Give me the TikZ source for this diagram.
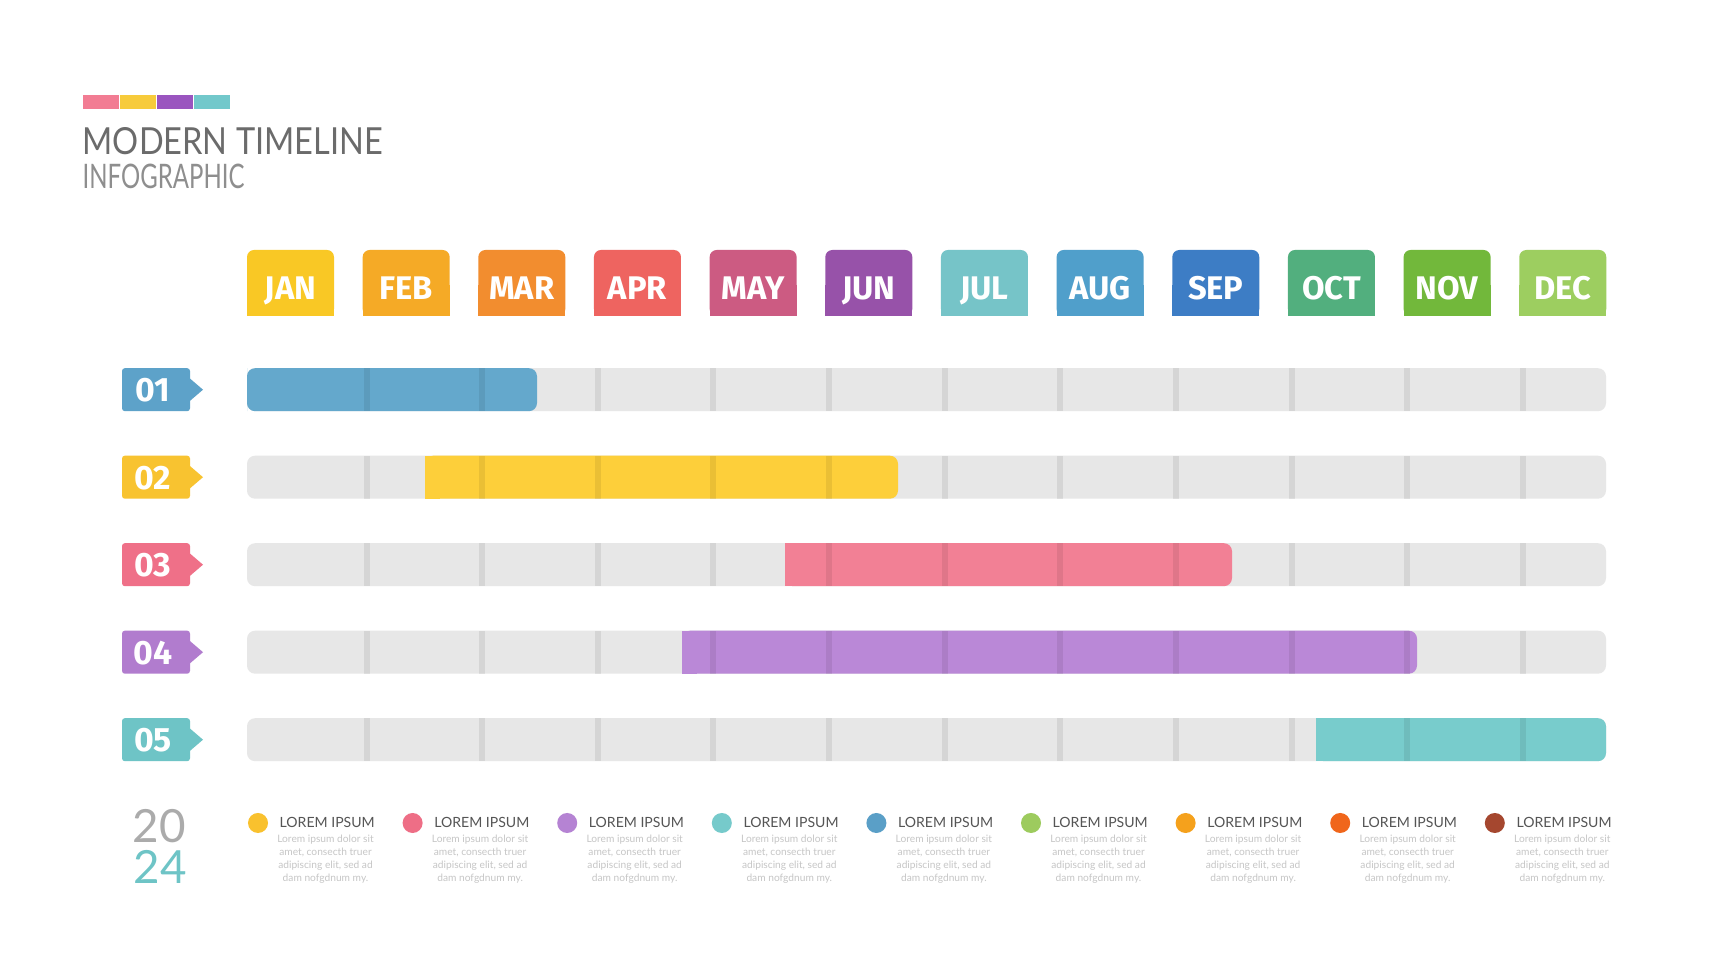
\documentclass[tikz,border=0pt]{standalone}
\usepackage{fontspec}
\setmainfont{Lato}
\newfontfamily\tabfont{Fira Sans}
\usepackage{graphicx}
\usepackage{xcolor}
\usepackage{tikz}
\usetikzlibrary{positioning}

\definecolor{ink}{HTML}{6B6B6B}
\definecolor{inklight}{HTML}{8E8E8E}
\definecolor{track}{HTML}{E7E7E7}
\definecolor{lorem}{HTML}{C6C6C6}
\definecolor{headink}{HTML}{555555}
\definecolor{yeargray}{HTML}{ABABAB}
% title strip
\definecolor{stripa}{HTML}{F27C93}
\definecolor{stripb}{HTML}{F7CB3B}
\definecolor{stripc}{HTML}{9A55BF}
\definecolor{stripd}{HTML}{72C8CB}
% months
\definecolor{janc}{HTML}{F9C825}
\definecolor{febc}{HTML}{F5AA26}
\definecolor{marc}{HTML}{F28D2F}
\definecolor{aprc}{HTML}{EE6460}
\definecolor{mayc}{HTML}{CC5B82}
\definecolor{junc}{HTML}{9752A9}
\definecolor{julc}{HTML}{76C4C8}
\definecolor{augc}{HTML}{509FCB}
\definecolor{sepc}{HTML}{3D7DC5}
\definecolor{octc}{HTML}{52AF7E}
\definecolor{novc}{HTML}{72B83B}
\definecolor{decc}{HTML}{9DCE60}
% row tags and spans
\definecolor{tagA}{HTML}{5DA2C9}
\definecolor{tagB}{HTML}{F8C330}
\definecolor{tagC}{HTML}{EF7088}
\definecolor{tagD}{HTML}{B17CCE}
\definecolor{tagE}{HTML}{6EC4C6}
\definecolor{spanA}{HTML}{64A8CC}
\definecolor{spanB}{HTML}{FDCF3A}
\definecolor{spanC}{HTML}{F28095}
\definecolor{spanD}{HTML}{BA88D7}
\definecolor{spanE}{HTML}{78CCCC}
% legend dots
\definecolor{dotA}{HTML}{F9C12E}
\definecolor{dotB}{HTML}{EE6E86}
\definecolor{dotC}{HTML}{B583D3}
\definecolor{dotD}{HTML}{76CACB}
\definecolor{dotE}{HTML}{5A9FC7}
\definecolor{dotF}{HTML}{9DCB5E}
\definecolor{dotG}{HTML}{F5A11C}
\definecolor{dotH}{HTML}{F0661B}
\definecolor{dotI}{HTML}{A5472F}

\begin{document}
\begin{tikzpicture}[x=0.01cm,y=-0.01cm,
  month/.style={anchor=base,inner sep=0pt,text=white,font=\fontsize{9.3}{11}\tabfont\bfseries},
  tagnum/.style={anchor=base,inner sep=0pt,text=white,font=\fontsize{9.6}{11}\tabfont\bfseries},
  dot/.style={circle,minimum size=0.2cm,inner sep=0pt},
  lghead/.style={anchor=base west,inner sep=0pt,text=headink,font=\fontsize{4.0}{5}\selectfont},
  lgbody/.style={anchor=north,inner sep=0pt,align=center,text=lorem,font=\fontsize{2.9}{3.7}\selectfont}]
\useasboundingbox (0,0) rectangle (1736,980);
\fill[white] (0,0) rectangle (1736,980);

% Title block: colour strip and heading.
\foreach \c [count=\i from 0] in {stripa,stripb,stripc,stripd}{
  \fill[\c] (83+\i*37,95) rectangle ++(36,14);
}
\node[anchor=base west,inner sep=0pt,text=ink,font=\fontsize{10.6}{12}\selectfont] (title) at (82,155) {\scalebox{0.873}[1]{MODERN TIMELINE}};
\node[anchor=base west,inner sep=0pt,text=inklight,font=\fontsize{9.6}{12}\selectfont] (subtitle) at (82,189) {\scalebox{0.71}[1]{INFOGRAPHIC}};

% Month tabs, rounded on top only.
\foreach \m/\c [count=\i from 0] in {JAN/janc,FEB/febc,MAR/marc,APR/aprc,MAY/mayc,JUN/junc,JUL/julc,AUG/augc,SEP/sepc,OCT/octc,NOV/novc,DEC/decc}{
  \pgfmathsetmacro{\xl}{247+\i*115.66}
  \fill[\c,rounded corners=2pt] (\xl,250) rectangle ++(87,66);
  \fill[\c] (\xl,285) rectangle ++(87,31);
  \node[month] (m\i) at (\xl+43.5,300) {\m};
}

% Rows: grey track, coloured span, month dividers, number tag.
\foreach \n/\tc/\bc/\from/\to/\sq [count=\r from 0] in {01/tagA/spanA/247/537/0,02/tagB/spanB/425/898/15,03/tagC/spanC/785/1232/15,04/tagD/spanD/682/1417/15,05/tagE/spanE/1316/1606/15}{
  \pgfmathsetmacro{\cy}{389.7+\r*87.5}
  \fill[track,rounded corners=2.3pt] (247,\cy-21.5) rectangle (1606,\cy+21.5);
  \fill[\bc,rounded corners=2.3pt] (\from,\cy-21.5) rectangle (\to,\cy+21.5);
  \fill[\bc] (\from,\cy-21.5) rectangle ++(\sq,43);
  \foreach \j in {0,...,10}{
    \fill[black,opacity=0.075] (363.5+\j*115.66,\cy-21.5) rectangle ++(6,43);
  }
  \fill[\tc,rounded corners=0.8pt] (122,\cy-21.5) rectangle (190,\cy+21.5);
  \fill[\tc] (189,\cy-12) -- (203,\cy) -- (189,\cy+12) -- cycle;
  \node[tagnum] (tag\r) at (153,\cy+12) {\n};
}

% Year.
\node[anchor=base west,inner sep=0pt,text=yeargray,font=\fontsize{13}{13}\selectfont] (yr20) at (132,843) {20};
\node[anchor=base west,inner sep=0pt,text=tagE,font=\fontsize{13}{13}\selectfont] (yr24) at (133,884) {24};

% Legend.
\foreach \c [count=\i from 0] in {dotA,dotB,dotC,dotD,dotE,dotF,dotG,dotH,dotI}{
  \pgfmathsetmacro{\lx}{258+\i*154.6}
  \node[dot,fill=\c] (dot\i) at (\lx,823) {};
  \node[lghead] (lh\i) at (\lx+21,827.3) {LOREM IPSUM};
  \node[lgbody] (lb\i) at (\lx+67.5,834) {Lorem ipsum dolor sit\\amet, consecth truer\\adipiscing elit, sed ad\\dam nofgdnum my.};
}
\end{tikzpicture}
\end{document}
